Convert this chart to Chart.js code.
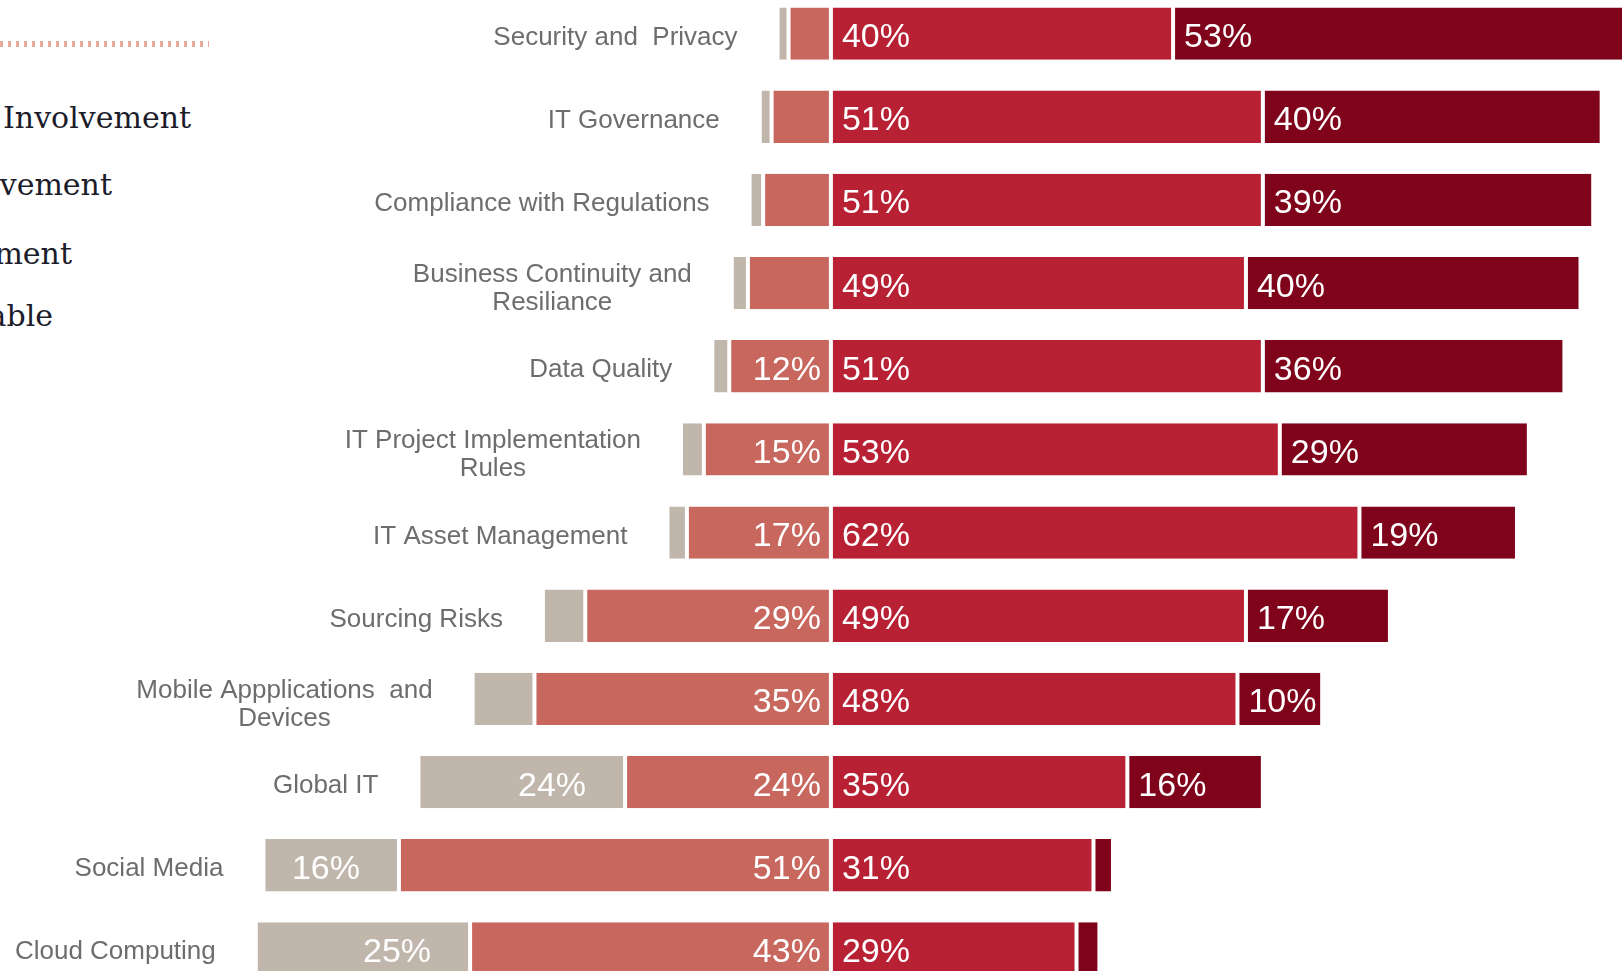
<!DOCTYPE html>
<html>
<head>
<meta charset="utf-8">
<script src="https://cdn.jsdelivr.net/npm/chart.js@4"></script>
<style>
	html, body { margin: 0; padding: 0; background: #ffffff; overflow: hidden; width: 1622px; height: 971px; }
	#wrap { position: absolute; left: 0; top: -8.3px; width: 1622px; height: 998px; }
	#dots { position: absolute; left: 0; top: 41px; width: 209px; height: 6px;
		background: repeating-linear-gradient(to right, #e5ab9f 0 3px, transparent 3px 8px); }
	.leg { position: absolute; font-family: "DejaVu Serif", serif; font-size: 30px; line-height: 30px;
		color: #1c1c2a; white-space: nowrap; }
</style>
</head>
<body>
<div id="dots"></div>
<div class="leg" style="left:3px; top:103px;">Involvement</div>
<div class="leg" style="right:1510px; top:170px;">vement</div>
<div class="leg" style="right:1550px; top:239px;">ment</div>
<div class="leg" style="right:1569px; top:301px;">able</div>
<div id="wrap"><canvas id="chart"></canvas></div>
<script>
// === Data ===

const categories = [
	['Security and  Privacy'],
	['IT Governance'],
	['Compliance with Regulations'],
	['Business Continuity and', 'Resiliance'],
	['Data Quality'],
	['IT Project Implementation', 'Rules'],
	['IT Asset Management'],
	['Sourcing Risks'],
	['Mobile Appplications  and', 'Devices'],
	['Global IT'],
	['Social Media'],
	['Cloud Computing']
];

const notApplicable = [1.3, 1.4, 1.6, 1.9, 2, 2.7, 2.3, 5, 7.3, 24.4, 16, 25.3];
const limited = [5, 7, 8, 9.8, 12, 15, 17, 29, 35, 24.3, 51, 42.6];
const significant = [40.4, 51, 51, 49, 51, 53, 62.4, 49, 48, 35, 31, 29];
const full = [53.4, 40, 39, 39.5, 35.6, 29.4, 18.6, 17, 10, 16, 2.3, 2.7];


// === Labels plugin ===

const barLabels = {
	id: 'barLabels',
	afterDatasetsDraw(chart) {
		const ctx = chart.ctx;
		ctx.save();
		ctx.fillStyle = '#ffffff';
		ctx.font = '34px "Liberation Sans", Arial, sans-serif';
		ctx.textBaseline = 'alphabetic';

		chart.data.datasets.forEach((ds, di) => {
			const meta = chart.getDatasetMeta(di);
			meta.data.forEach((bar, i) => {
				const value = ds.data[i];
				if (Math.abs(value) < 10)
					return;
				const text = Math.round(Math.abs(value)) + '%';
				const y = bar.y + 13.5;
				if (value > 0) {
					ctx.textAlign = 'left';
					ctx.fillText(text, bar.base + 11, y);
				} else if (di === 2) {
					ctx.textAlign = 'right';
					ctx.fillText(text, bar.base - 10, y);
				} else {
					ctx.textAlign = 'right';
					ctx.fillText(text, bar.base - 39, y);
				}
			});
		});

		// category names, placed just left of each row's bar
		ctx.fillStyle = '#6d6d6d';
		ctx.font = '26px "Liberation Sans", Arial, sans-serif';
		ctx.textAlign = 'center';
		const outer = chart.getDatasetMeta(3);
		outer.data.forEach((bar, i) => {
			const lines = categories[i];
			const maxW = Math.max(...lines.map(l => ctx.measureText(l).width));
			const cx = bar.x - 40 - maxW / 2;
			const top = bar.y + 11 - (lines.length - 1) * 14 + (lines.length > 1 ? 2 : 0);
			lines.forEach((l, k) => ctx.fillText(l, cx, top + k * 28));
		});
		ctx.restore();
	}
};


// === Chart ===

function makeDataset(label, values, color, sign) {
	return {
		label: label,
		data: values.map(v => v * sign),
		backgroundColor: color,
		borderColor: '#ffffff',
		borderWidth: { left: 2, right: 2, top: 0, bottom: 0 },
		borderSkipped: false,
		stack: 'all'
	};
}

new Chart(document.getElementById('chart'), {
	type: 'bar',
	data: {
		labels: categories.map(c => c.join(' ')),
		datasets: [
			makeDataset('Significant Involvement', significant, 'rgb(184, 32, 52)', 1),
			makeDataset('Full Involvement', full, 'rgb(127, 3, 26)', 1),
			makeDataset('Limited Involvement', limited, 'rgb(200, 103, 93)', -1),
			makeDataset('Not Applicable', notApplicable, 'rgb(193, 182, 172)', -1)
		]
	},
	options: {
		indexAxis: 'y',
		responsive: true,
		maintainAspectRatio: false,
		animation: false,
		layout: { padding: 0 },
		datasets: {
			bar: { categoryPercentage: 1, barPercentage: 0.63 }
		},
		scales: {
			x: { type: 'linear', min: -98.1, max: 93.4, stacked: true, display: false },
			y: { stacked: true, display: false }
		},
		plugins: {
			legend: { display: false },
			tooltip: { enabled: false }
		}
	},
	plugins: [barLabels]
});
</script>
</body>
</html>
